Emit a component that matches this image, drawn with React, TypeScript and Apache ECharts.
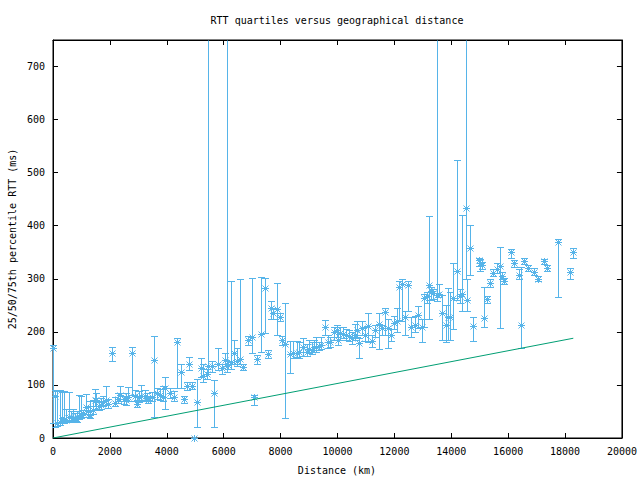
import React, { useEffect, useRef } from "react";
import * as echarts from "echarts";

// Distance (km) and RTT quartiles (ms)
const dist = [0, 70, 150, 235, 316, 400, 470, 551, 620, 703, 773, 843, 920, 1000, 1060, 1160, 1230, 1300, 1390, 1465, 1510, 1600, 1690, 1770, 1860, 1930, 2060, 2180, 2270, 2355, 2480, 2560, 2650, 2790, 2880, 2965, 3040, 3110, 3220, 3290, 3350, 3470, 3560, 3650, 3760, 3880, 3950, 4115, 4265, 4370, 4490, 4605, 4700, 4790, 4880, 4960, 5075, 5200, 5285, 5400, 5450, 5580, 5670, 5800, 5930, 6050, 6100, 6150, 6260, 6375, 6480, 6575, 6690, 6865, 6985, 7065, 7180, 7300, 7450, 7570, 7665, 7745, 7885, 7980, 8060, 8155, 8330, 8450, 8560, 8650, 8775, 8915, 9000, 9090, 9180, 9245, 9360, 9430, 9560, 9650, 9740, 9890, 9970, 10030, 10090, 10200, 10300, 10400, 10500, 10600, 10675, 10755, 10850, 10965, 11085, 11200, 11320, 11460, 11580, 11670, 11770, 11880, 12000, 12080, 12165, 12260, 12375, 12490, 12585, 12725, 12840, 12980, 13050, 13135, 13215, 13300, 13370, 13500, 13580, 13685, 13805, 13895, 13960, 14070, 14190, 14300, 14390, 14505, 14560, 14660, 14775, 14975, 15020, 15090, 15160, 15265, 15360, 15475, 15600, 15710, 15790, 15860, 16090, 16200, 16390, 16450, 16565, 16680, 16900, 17060, 17270, 17370, 17760, 18170, 18290];
const q25 = [28, 20, 22, 25, 30, 28, 30, 32, 34, 30, 32, 30, 35, 38, 40, 46, 40, 38, 45, 60, 55, 52, 55, 60, 62, 56, 145, 60, 66, 70, 64, 63, 70, 81, 70, 58, 68, 70, 72, 70, 66, 70, 40, 74, 72, 70, 55, 76, 70, 94, 94, 66, 90, 128, 92, 0, 21, 115, 105, 112, 125, 125, 21, 128, 120, 135, 125, 130, 130, 140, 135, 140, 128, 175, 160, 62, 140, 163, 198, 150, 225, 225, 194, 220, 175, 38, 122, 150, 152, 150, 155, 155, 160, 158, 162, 163, 165, 168, 195, 170, 172, 185, 190, 175, 185, 188, 185, 182, 178, 185, 190, 150, 195, 182, 180, 172, 190, 168, 195, 195, 170, 182, 205, 200, 223, 220, 195, 240, 190, 200, 208, 180, 210, 255, 225, 260, 262, 258, 265, 185, 180, 185, 185, 205, 260, 255, 240, 300, 240, 308, 182, 325, 315, 318, 210, 255, 285, 305, 310, 207, 300, 290, 340, 322, 300, 170, 328, 315, 308, 295, 328, 314, 266, 300, 340];
const q50 = [170, 79, 28, 31, 38, 33, 34, 40, 40, 38, 37, 36, 42, 44, 47, 58, 50, 43, 52, 72, 72, 60, 62, 68, 72, 64, 160, 66, 74, 81, 73, 72, 78, 160, 79, 64, 77, 79, 80, 76, 72, 78, 147, 84, 81, 78, 95, 85, 78, 180, 125, 73, 98, 140, 98, 0, 68, 132, 116, 120, 135, 135, 84, 140, 132, 147, 140, 137, 143, 161, 145, 148, 133, 185, 190, 77, 148, 196, 282, 158, 245, 236, 243, 228, 184, 177, 159, 160, 161, 162, 171, 162, 168, 166, 172, 171, 173, 176, 209, 180, 180, 200, 204, 185, 198, 196, 195, 193, 188, 195, 204, 179, 207, 195, 211, 182, 204, 215, 207, 237, 207, 194, 217, 220, 285, 290, 228, 288, 210, 213, 232, 210, 264, 267, 289, 277, 273, 270, 272, 235, 213, 228, 228, 264, 315, 267, 272, 433, 260, 358, 211, 335, 330, 326, 226, 262, 293, 311, 318, 325, 306, 295, 350, 330, 308, 213, 333, 320, 313, 299, 333, 320, 369, 312, 350];
const q75 = [175, 91, 88, 90, 86, 88, 55, 86, 50, 55, 48, 50, 81, 80, 52, 82, 60, 70, 72, 92, 85, 70, 75, 80, 98, 74, 172, 78, 84, 98, 80, 85, 96, 172, 90, 72, 88, 100, 90, 84, 80, 86, 192, 95, 92, 98, 115, 95, 88, 188, 140, 80, 106, 152, 106, 0, 111, 150, 140, 130, 900, 145, 109, 170, 140, 160, 900, 145, 295, 185, 170, 300, 140, 192, 302, 81, 156, 304, 302, 166, 258, 245, 292, 236, 192, 255, 182, 182, 182, 180, 188, 178, 185, 180, 185, 190, 180, 190, 222, 195, 190, 210, 212, 200, 210, 210, 205, 204, 200, 215, 220, 188, 220, 210, 235, 195, 212, 235, 212, 245, 225, 205, 230, 245, 295, 300, 240, 296, 228, 230, 248, 225, 272, 275, 419, 285, 280, 900, 290, 270, 250, 282, 275, 330, 523, 280, 420, 900, 300, 402, 228, 340, 338, 332, 285, 268, 300, 318, 330, 360, 312, 302, 356, 336, 318, 323, 340, 326, 320, 305, 338, 326, 375, 320, 358];

// Lower bound line (km, ms)
const boundDist = [0, 18290];
const boundRtt = [0, 188];

const xTicks = { min: 0, max: 20000, interval: 2000 };
const yTicks = { min: 0, max: 750, interval: 100 };

const FONT = '"DejaVu Sans Mono", "Liberation Mono", monospace';

export default function App() {
  const ref = useRef<HTMLDivElement>(null);
  useEffect(() => {
    if (!ref.current) return;
    const chart = echarts.init(ref.current, null, { renderer: "svg" });
    const blue = "#56b4e9";
    const green = "#009e73";
    const errData = dist.map((d, i) => [d, q25[i], q50[i], q75[i]]);
    const lineData = boundDist.map((d, i) => [d, boundRtt[i]]);
    const axisCommon = {
      axisLine: { show: true, onZero: false, lineStyle: { color: "#000", width: 1 } },
      axisTick: { show: true, inside: true, length: 5, lineStyle: { color: "#000" } },
      splitLine: { show: false },
    };
    chart.setOption({
      animation: false,
      backgroundColor: "#fff",
      grid: { left: 53, right: 18, top: 40, bottom: 42, show: true, borderColor: "#000", borderWidth: 1 },
      xAxis: [
        {
          type: "value", ...xTicks, position: "bottom", ...axisCommon,
          axisLabel: { color: "#000", fontFamily: FONT, fontSize: 10, margin: 8, formatter: (v: number) => String(v) },
        },
        {
          type: "value", ...xTicks, position: "top", ...axisCommon,
          axisLabel: { show: false },
        },
      ],
      yAxis: [
        {
          type: "value", ...yTicks, position: "left", ...axisCommon,
          axisLabel: { color: "#000", fontFamily: FONT, fontSize: 10, margin: 8, showMaxLabel: false, formatter: (v: number) => String(v) },
        },
        {
          type: "value", ...yTicks, position: "right", ...axisCommon,
          axisLabel: { show: false },
        },
      ],
      graphic: [
        {
          type: "text", x: 337, y: 20,
          style: { text: "RTT quartiles versus geographical distance", font: `10px ${FONT}`, fill: "#000", textAlign: "center", textVerticalAlign: "middle" },
        },
        {
          type: "text", x: 337, y: 470,
          style: { text: "Distance (km)", font: `10px ${FONT}`, fill: "#000", textAlign: "center", textVerticalAlign: "middle" },
        },
        {
          type: "text", x: 12, y: 239, rotation: Math.PI / 2,
          style: { text: "25/50/75th percentile RTT (ms)", font: `10px ${FONT}`, fill: "#000", textAlign: "center", textVerticalAlign: "middle" },
        },
      ],
      series: [
        {
          type: "custom",
          clip: false,
          data: errData,
          encode: { x: 0, y: [1, 2, 3] },
          renderItem: (params: any, api: any) => {
            const x = api.value(0);
            const top = api.coord([x, yTicks.max]);
            const lo = api.coord([x, api.value(1)]);
            const md = api.coord([x, api.value(2)]);
            const hi = api.coord([x, api.value(3)]);
            const cx = Math.round(lo[0]) + 0.5;
            const yTop = Math.round(top[1]) + 0.5;
            const yl = Math.round(lo[1]) + 0.5;
            const hiClipped = hi[1] < top[1];
            const yh = hiClipped ? yTop : Math.round(hi[1]) + 0.5;
            const ym = Math.round(md[1]) + 0.5;
            const cap = 3.5;
            const s = 3.5;
            const d = 3;
            const style = { stroke: blue, lineWidth: 1, fill: null };
            const mk = (x1: number, y1: number, x2: number, y2: number) => ({
              type: "line", shape: { x1, y1, x2, y2 }, style,
            });
            const children: any[] = [
              mk(cx, yl, cx, yh),
              mk(cx - cap, yl, cx + cap, yl),
              mk(cx - s, ym, cx + s, ym),
              mk(cx, ym - s, cx, ym + s),
              mk(cx - d, ym - d, cx + d, ym + d),
              mk(cx - d, ym + d, cx + d, ym - d),
            ];
            if (!hiClipped) children.push(mk(cx - cap, yh, cx + cap, yh));
            return { type: "group", children };
          },
        },
        {
          type: "line",
          data: lineData,
          symbol: "none",
          lineStyle: { color: green, width: 1 },
          itemStyle: { color: green },
        },
      ],
    });
    return () => chart.dispose();
  }, []);
  return <div ref={ref} style={{ position: "fixed", left: 0, top: 0, width: 640, height: 480 }} />;
}
